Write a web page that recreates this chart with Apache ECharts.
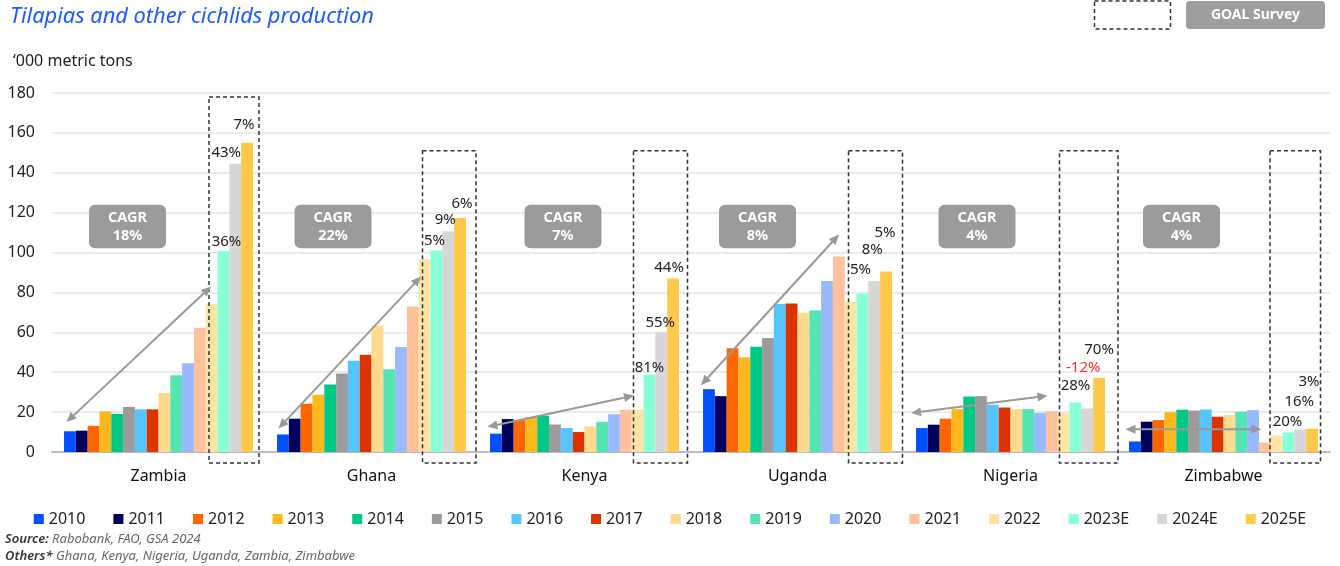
<!DOCTYPE html>
<html>
<head>
<meta charset="utf-8">
<script src="https://cdn.jsdelivr.net/npm/echarts@6/dist/echarts.min.js"></script>
<style>
html,body{margin:0;padding:0;background:#fff;}
#main{width:1340px;height:566px;}
</style>
</head>
<body>
<div id="main"></div>
<script>
// ---------- DATA ----------
const countries = ['Zambia', 'Ghana', 'Kenya', 'Uganda', 'Nigeria', 'Zimbabwe'];
const years = ['2010','2011','2012','2013','2014','2015','2016','2017','2018','2019','2020','2021','2022','2023E','2024E','2025E'];
const yTicks = [0, 20, 40, 60, 80, 100, 120, 140, 160, 180];

const v2010  = [10.4, 8.8, 9.2, 31.5, 12.0, 5.3];
const v2011  = [10.7, 16.7, 16.5, 28.0, 13.7, 15.2];
const v2012  = [13.1, 24.2, 16.0, 52.0, 16.7, 16.0];
const v2013  = [20.4, 28.7, 17.5, 47.5, 21.5, 20.0];
const v2014  = [19.1, 33.8, 18.2, 52.8, 27.8, 21.2];
const v2015  = [22.6, 39.3, 13.8, 57.2, 28.0, 20.8];
const v2016  = [21.4, 45.8, 12.0, 74.2, 23.7, 21.3];
const v2017  = [21.4, 48.7, 10.0, 74.5, 22.3, 17.7];
const v2018  = [29.6, 63.3, 12.8, 69.8, 21.5, 18.5];
const v2019  = [38.5, 41.5, 15.2, 71.0, 21.5, 20.2];
const v2020  = [44.5, 52.7, 19.0, 85.7, 19.5, 21.0];
const v2021  = [62.3, 73.0, 21.2, 98.0, 20.5, 4.8];
const v2022  = [74.3, 96.7, 21.3, 75.3, 19.5, 8.2];
const v2023E = [100.8, 101.0, 38.8, 79.3, 24.8, 9.8];
const v2024E = [144.5, 110.7, 60.0, 85.8, 21.8, 11.3];
const v2025E = [155.1, 117.3, 87.0, 90.5, 37.2, 11.7];

const g2023E = ['36%', '5%', '81%', '5%', '28%', '20%'];
const g2024E = ['43%', '9%', '55%', '8%', '-12%', '16%'];
const g2025E = ['7%', '6%', '44%', '5%', '70%', '3%'];
const cagr = ['18%', '22%', '7%', '8%', '4%', '4%'];

// arrow end values (y, in '000 t) per country: [left, right]
const arrowLeftVal  = [15, 11.8, 12.6, 33.5, 19.5, 11.4];
const arrowRightVal = [83, 88, 28.3, 109, 28.2, 11.4];
// survey box top values
const boxTopVal = [178, 151, 151, 151, 151, 151];

// ---------- STYLE / LAYOUT ----------
const colors = ['#0050FF','#00005A','#FF6600','#FFB81C','#00C885','#9B9B9B','#55C4FF','#DD3300',
                '#FFD98C','#55E5B5','#99B9FF','#FFC19B','#FFE3A4','#88FFD5','#D7D7D9','#FFC84A'];
const seriesValues = [v2010,v2011,v2012,v2013,v2014,v2015,v2016,v2017,v2018,v2019,v2020,v2021,v2022,v2023E,v2024E,v2025E];
const growthLabels = {13: g2023E, 14: g2024E, 15: g2025E};
const labelOffsets = {
  13: [[3,2],[-2,2],[0,5],[-2,-13],[0,-5],[-1,1]],
  14: [[-9,0],[-3,0],[-1,2],[-2,-20],[-4,-29],[-1,-16]],
  15: [[-3,-6],[2,-3],[-4,1],[-1,-27],[0,-17],[-3,-35]]
};
const arrowLeftDx  = [-92, -93, -97, -96.5, -99.5, -98];
const arrowRightDx = [52.5, 49.5, 49.5, 41.5, 37, 38];
const boxLeftDx  = [50.5, 51, 49, 51, 49, 46.5];
const boxRightDx = [100.5, 104.5, 103, 105, 107.5, 97];
const cagrDx = [-31, -38.5, -21.5, -40, -33.5, -42];

const FONT = '"Noto Sans", "DejaVu Sans", sans-serif';
const chart = echarts.init(document.getElementById('main'), null, {renderer: 'canvas'});

const series = years.map((yr, si) => ({
  name: yr,
  type: 'bar',
  barGap: '0%',
  barCategoryGap: '11.3%',
  itemStyle: {color: colors[si]},
  z: 2,
  data: seriesValues[si].map((v, ci) => {
    if (growthLabels[si]) {
      const txt = growthLabels[si][ci];
      return {
        value: v,
        label: {
          show: true, position: 'top', distance: 4,
          formatter: txt,
          offset: labelOffsets[si][ci],
          fontFamily: FONT, fontSize: 15,
          color: txt.startsWith('-') ? '#FF2A2A' : '#222'
        }
      };
    }
    return v;
  })
}));

const option = {
  animation: false,
  backgroundColor: '#fff',
  textStyle: {fontFamily: FONT},
  title: [
    {text: 'Tilapias and other cichlids production', left: 5, top: 1,
     textStyle: {fontFamily: FONT, fontStyle: 'italic', fontWeight: 'normal', fontSize: 21.8, color: '#1A5AFF'}},
    {text: '\u2018000 metric tons', left: 8, top: 48,
     textStyle: {fontFamily: FONT, fontWeight: 'normal', fontSize: 16, color: '#222'}}
  ],
  legend: {
    data: years,
    left: 'center', top: 506,
    itemWidth: 10, itemHeight: 10, itemGap: 28,
    icon: 'rect',
    textStyle: {fontFamily: FONT, fontSize: 16, color: '#222', padding: [0,0,0,0]}
  },
  grid: {left: 52, right: 10, top: 93, bottom: 114, containLabel: false},
  xAxis: {
    type: 'category', data: countries,
    axisLine: {lineStyle: {color: '#BDBDBD', width: 2}},
    axisTick: {show: false},
    axisLabel: {fontFamily: FONT, fontSize: 16, color: '#111', margin: 16}
  },
  yAxis: {
    type: 'value', min: 0, max: 180, interval: 20,
    axisLine: {show: false}, axisTick: {show: false},
    axisLabel: {fontFamily: FONT, fontSize: 16, color: '#222', margin: 17,
                formatter: v => yTicks.includes(v) ? String(v) : ''},
    splitLine: {lineStyle: {color: '#E4E4E4', width: 1.5}}
  },
  series: series
};
chart.setOption(option);

// ---------- ANNOTATIONS (positioned through the chart's own scales) ----------
function arrowGraphics(x1, y1, x2, y2, color) {
  const dx = x2 - x1, dy = y2 - y1, len = Math.sqrt(dx*dx + dy*dy);
  const ux = dx / len, uy = dy / len, px = -uy, py = ux;
  const hl = 10, hw = 4.5;
  const out = [];
  out.push({type: 'line', z: 50, silent: true,
    shape: {x1: x1 + ux*hl*0.8, y1: y1 + uy*hl*0.8, x2: x2 - ux*hl*0.8, y2: y2 - uy*hl*0.8},
    style: {stroke: color, lineWidth: 2}});
  const head = (tx, ty, sx, sy) => ({type: 'polygon', z: 50, silent: true,
    shape: {points: [[tx, ty], [tx + sx*hl + px*hw, ty + sy*hl + py*hw], [tx + sx*hl - px*hw, ty + sy*hl - py*hw]]},
    style: {fill: color}});
  out.push(head(x1, y1, ux, uy));
  out.push(head(x2, y2, -ux, -uy));
  return out;
}

function buildGraphics() {
  const cx = countries.map(c => chart.convertToPixel({xAxisIndex: 0}, c));
  const band = cx[1] - cx[0];
  const k = band / 213;
  const py = v => chart.convertToPixel({yAxisIndex: 0}, v);
  const g = [];
  countries.forEach((c, i) => {
    // survey dashed box
    const bx1 = cx[i] + boxLeftDx[i] * k, bx2 = cx[i] + boxRightDx[i] * k;
    const by1 = py(boxTopVal[i]), by2 = py(0) + 11;
    g.push({type: 'rect', z: 40, silent: true,
      shape: {x: bx1, y: by1, width: bx2 - bx1, height: by2 - by1},
      style: {fill: 'none', stroke: '#333', lineWidth: 1.5, lineDash: [4, 3]}});
    // CAGR badge
    const ccx = cx[i] + cagrDx[i] * k;
    const top = py(124), bot = py(102.2);
    g.push({type: 'rect', z: 45, silent: true,
      shape: {x: ccx - 38.5, y: top, width: 77, height: bot - top, r: 6},
      style: {fill: '#9B9B9B'}});
    g.push({type: 'text', z: 46, silent: true,
      x: ccx, y: (top + bot) / 2,
      style: {text: 'CAGR\n' + cagr[i], fill: '#fff', font: 'bold 14.5px ' + FONT,
              align: 'center', verticalAlign: 'middle', lineHeight: 18}});
    // arrow
    const ax1 = cx[i] + arrowLeftDx[i] * k, ay1 = py(arrowLeftVal[i]);
    const ax2 = cx[i] + arrowRightDx[i] * k, ay2 = py(arrowRightVal[i]);
    arrowGraphics(ax1, ay1, ax2, ay2, '#999999').forEach(e => g.push(e));
  });
  // top-right legend for GOAL Survey
  g.push({type: 'rect', z: 40, silent: true,
    shape: {x: 1094.5, y: 1, width: 76, height: 28},
    style: {fill: 'none', stroke: '#333', lineWidth: 1.5, lineDash: [4, 3]}});
  g.push({type: 'rect', z: 40, silent: true,
    shape: {x: 1186, y: 1, width: 139, height: 28, r: 4},
    style: {fill: '#9E9E9E'}});
  g.push({type: 'text', z: 41, silent: true, x: 1255.5, y: 15,
    style: {text: 'GOAL Survey', fill: '#fff', font: 'bold 14px ' + FONT, align: 'center', verticalAlign: 'middle'}});
  // source notes
  g.push({type: 'text', z: 41, silent: true, x: 5, y: 539,
    style: {text: '{b|Source:} {n|Rabobank, FAO, GSA 2024}', verticalAlign: 'middle',
      rich: {b: {font: 'italic 600 13px ' + FONT, fill: '#333'}, n: {font: 'italic 13px ' + FONT, fill: '#666'}}}});
  g.push({type: 'text', z: 41, silent: true, x: 5, y: 556,
    style: {text: '{b|Others*} {n|Ghana, Kenya, Nigeria, Uganda, Zambia, Zimbabwe}', verticalAlign: 'middle',
      rich: {b: {font: 'italic 600 13px ' + FONT, fill: '#333'}, n: {font: 'italic 13px ' + FONT, fill: '#666'}}}});
  chart.setOption({graphic: g});
}
buildGraphics();
</script>
</body>
</html>
